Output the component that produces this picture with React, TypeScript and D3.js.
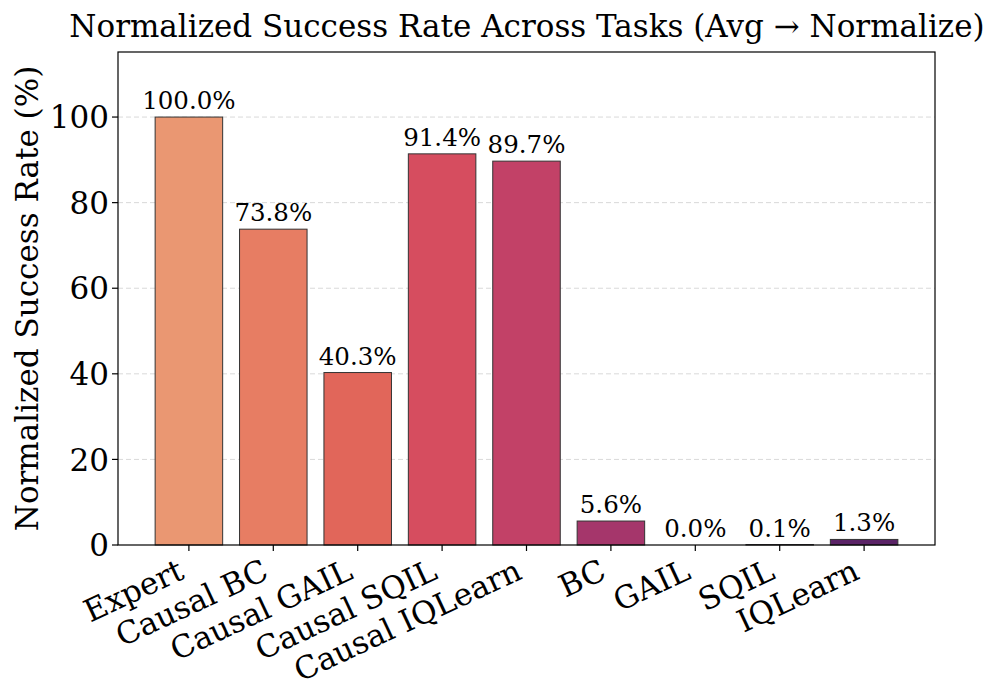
import React from "react";
import * as d3 from "d3";

const methods = [
  "Expert",
  "Causal BC",
  "Causal GAIL",
  "Causal SQIL",
  "Causal IQLearn",
  "BC",
  "GAIL",
  "SQIL",
  "IQLearn",
];
const rates = [100.0, 73.8, 40.3, 91.4, 89.7, 5.6, 0.0, 0.1, 1.3];
const barColors = [
  "#EA9772",
  "#E77D63",
  "#E1665A",
  "#D64D5F",
  "#C24167",
  "#A5366B",
  "#87306A",
  "#6E2A68",
  "#5A2366",
];
const yTicks = [0, 20, 40, 60, 80, 100];

const W = 997;
const H = 700;
const margin = { top: 52, right: 62, bottom: 155, left: 118 };
const FONT = "'DejaVu Serif', serif";
const BIG = 31;

export default function App() {
  const plotW = W - margin.left - margin.right;
  const plotH = H - margin.top - margin.bottom;

  // matplotlib-style xlim: bars of width 0.8 plus 5% margins
  const x = d3.scaleLinear().domain([-0.84, methods.length - 1 + 0.84]).range([0, plotW]);
  const y = d3.scaleLinear().domain([0, 115.2]).range([plotH, 0]);
  const bw = x(0.8) - x(0);

  return (
    <svg
      width={W}
      height={H}
      style={{ position: "absolute", left: 0, top: 0, background: "#fff" }}
      fontFamily={FONT}
    >
      <text x={527} y={37} textAnchor="middle" fontSize={BIG} fill="#000">
        Normalized Success Rate Across Tasks (Avg → Normalize)
      </text>
      <text
        transform={`translate(38,${margin.top + plotH / 2}) rotate(-90)`}
        textAnchor="middle"
        fontSize={BIG}
        fill="#000"
      >
        Normalized Success Rate (%)
      </text>
      <g transform={`translate(${margin.left},${margin.top})`}>
        {yTicks.slice(1).map((t) => (
          <line
            key={"g" + t}
            x1={0}
            x2={plotW}
            y1={y(t)}
            y2={y(t)}
            stroke="#d9d9d9"
            strokeWidth={1}
            strokeDasharray="5,3"
          />
        ))}
        {rates.map((v, i) => (
          <rect
            key={methods[i]}
            x={x(i) - bw / 2}
            y={y(v)}
            width={bw}
            height={y(0) - y(v)}
            fill={barColors[i]}
            stroke="#333"
            strokeWidth={1}
          />
        ))}
        {rates.map((v, i) => (
          <text
            key={"l" + i}
            x={x(i)}
            y={y(v) - 8}
            textAnchor="middle"
            fontSize={24.5}
            fill="#000"
          >
            {v.toFixed(1)}%
          </text>
        ))}
        <rect x={0} y={0} width={plotW} height={plotH} fill="none" stroke="#000" strokeWidth={1.2} />
        {yTicks.map((t) => (
          <g key={"y" + t} transform={`translate(0,${y(t)})`}>
            <line x1={-6} x2={0} stroke="#000" strokeWidth={1.2} />
            <text x={-9} dy="0.36em" textAnchor="end" fontSize={BIG} fill="#000">
              {t}
            </text>
          </g>
        ))}
        {methods.map((m, i) => (
          <g key={"x" + i}>
            <line x1={x(i)} x2={x(i)} y1={plotH} y2={plotH + 6} stroke="#000" strokeWidth={1.2} />
            <text
              transform={`translate(${x(i) - 3},${plotH + 33}) rotate(-25)`}
              textAnchor="end"
              fontSize={BIG}
              fill="#000"
            >
              {m}
            </text>
          </g>
        ))}
      </g>
    </svg>
  );
}
